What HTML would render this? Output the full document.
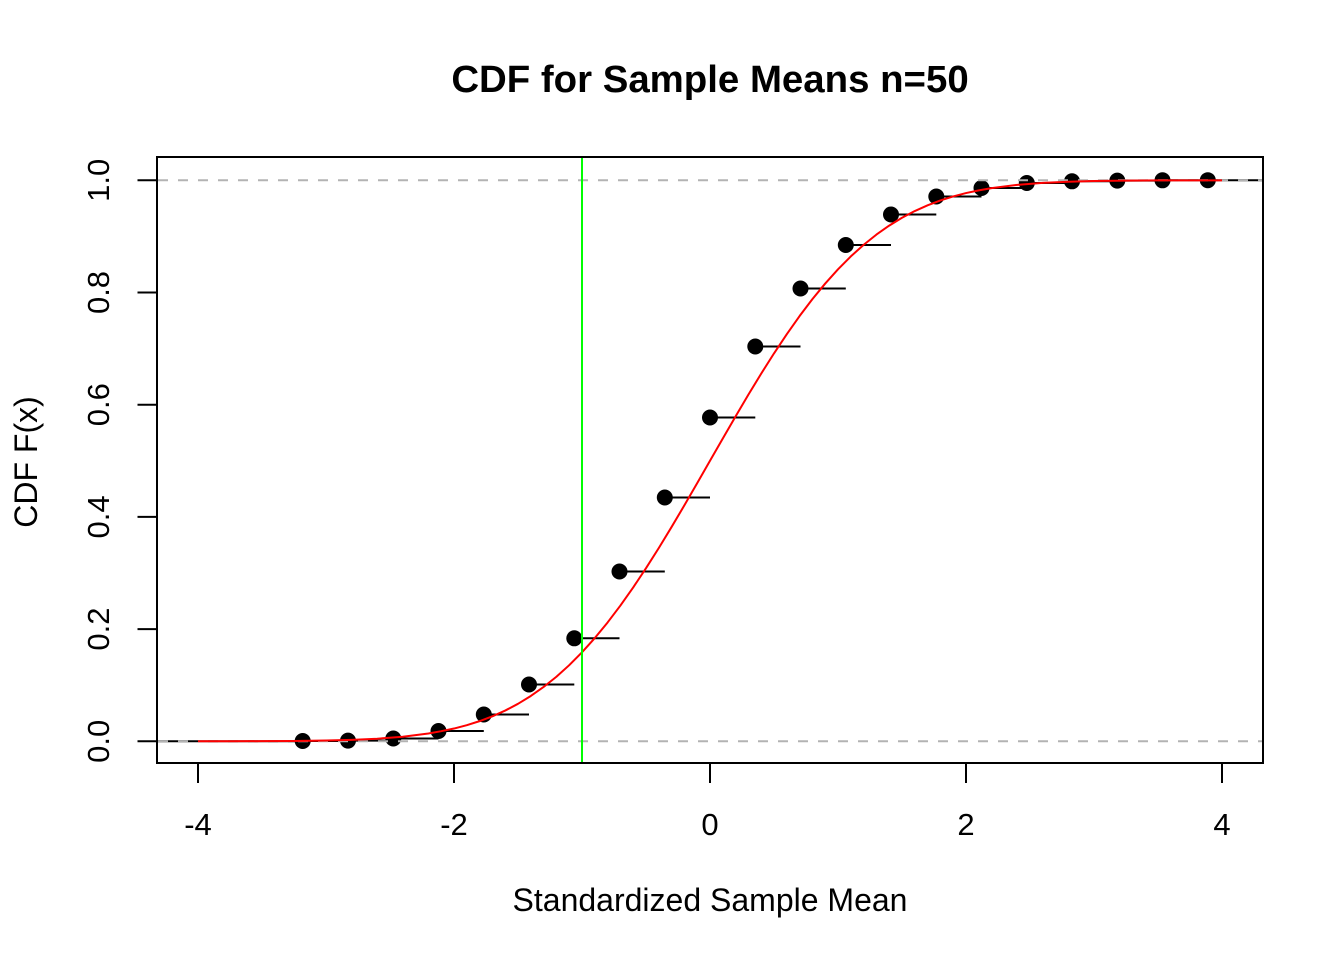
<!DOCTYPE html>
<html>
<head>
<meta charset="utf-8">
<style>
  html, body { margin: 0; padding: 0; background: #ffffff; }
  svg { display: block; }
  text { font-family: "Liberation Sans", Arial, Helvetica, sans-serif; fill: #000; }
</style>
</head>
<body>
<svg width="1344" height="960" viewBox="0 0 1344 960" xmlns="http://www.w3.org/2000/svg">
  <rect x="0" y="0" width="1344" height="960" fill="#ffffff"/>

  <!-- Title -->
  <text x="710" y="92" font-size="38.4" font-weight="bold" text-anchor="middle">CDF for Sample Means n=50</text>

  <!-- ECDF horizontal segments -->
  <g stroke="#000" stroke-width="2" fill="none">
    <line x1="157" y1="741.3" x2="302.7" y2="741.3"/>
    <line x1="302.7" y1="741" x2="348" y2="741"/>
    <line x1="348" y1="740.6" x2="393.3" y2="740.6"/>
    <line x1="393.3" y1="738.5" x2="438.5" y2="738.5"/>
    <line x1="438.5" y1="731" x2="483.8" y2="731"/>
    <line x1="483.8" y1="714.5" x2="529" y2="714.5"/>
    <line x1="529" y1="684.5" x2="574.3" y2="684.5"/>
    <line x1="574.3" y1="638.3" x2="619.5" y2="638.3"/>
    <line x1="619.5" y1="571.5" x2="664.8" y2="571.5"/>
    <line x1="664.8" y1="497.5" x2="710" y2="497.5"/>
    <line x1="710" y1="417.5" x2="755.3" y2="417.5"/>
    <line x1="755.3" y1="346.5" x2="800.5" y2="346.5"/>
    <line x1="800.5" y1="288.5" x2="845.8" y2="288.5"/>
    <line x1="845.8" y1="245" x2="891" y2="245"/>
    <line x1="891" y1="214.5" x2="936.3" y2="214.5"/>
    <line x1="936.3" y1="196.5" x2="981.5" y2="196.5"/>
    <line x1="981.5" y1="188" x2="1026.8" y2="188"/>
    <line x1="1026.8" y1="183" x2="1072" y2="183"/>
    <line x1="1072" y1="181.3" x2="1117.3" y2="181.3"/>
    <line x1="1117.3" y1="180.6" x2="1162.5" y2="180.6"/>
    <line x1="1162.5" y1="180.3" x2="1207.8" y2="180.3"/>
    <line x1="1207.8" y1="180.2" x2="1263" y2="180.2"/>
  </g>

  <!-- ECDF points -->
  <g fill="#000">
    <circle cx="302.7" cy="741" r="8"/>
    <circle cx="348" cy="740.6" r="8"/>
    <circle cx="393.3" cy="738.5" r="8"/>
    <circle cx="438.5" cy="731" r="8"/>
    <circle cx="483.8" cy="714.5" r="8"/>
    <circle cx="529" cy="684.5" r="8"/>
    <circle cx="574.3" cy="638.3" r="8"/>
    <circle cx="619.5" cy="571.5" r="8"/>
    <circle cx="664.8" cy="497.5" r="8"/>
    <circle cx="710" cy="417.5" r="8"/>
    <circle cx="755.3" cy="346.5" r="8"/>
    <circle cx="800.5" cy="288.5" r="8"/>
    <circle cx="845.8" cy="245" r="8"/>
    <circle cx="891" cy="214.5" r="8"/>
    <circle cx="936.3" cy="196.5" r="8"/>
    <circle cx="981.5" cy="188" r="8"/>
    <circle cx="1026.8" cy="183" r="8"/>
    <circle cx="1072" cy="181.3" r="8"/>
    <circle cx="1117.3" cy="180.6" r="8"/>
    <circle cx="1162.5" cy="180.3" r="8"/>
    <circle cx="1207.8" cy="180.2" r="8"/>
  </g>

  <!-- Gray dashed lines at 0 and 1 -->
  <g stroke="#b3b3b3" stroke-width="2" stroke-dasharray="10 10">
    <line x1="158" y1="741.3" x2="1263" y2="741.3"/>
    <line x1="158" y1="180.3" x2="1263" y2="180.3"/>
  </g>

  <!-- Normal CDF curve -->
  <polyline fill="none" stroke="#ff0000" stroke-width="2" stroke-linejoin="round" points="
    198,741.28 230,741.25 262,741.17 294,740.95 326,740.54 351.6,739.86 377.2,738.69 402.8,736.70
    428.4,733.50 441.2,731.2 454,728.54 466.8,725.19 479.6,721.14 492.4,716.30 505.2,710.56 518,703.82
    530.8,695.99 543.6,686.99 556.4,676.75 569.2,665.19 582,652.29 594.8,638.04 607.6,622.45
    620.4,605.56 633.2,587.45 646,568.21 658.8,547.99 671.6,526.95 684.4,505.27 697.2,483.15
    710,460.8 722.8,438.46 735.6,416.34 748.4,394.65 761.2,373.61 774,353.39 786.8,334.15
    799.6,316.04 812.4,299.15 825.2,283.56 838,269.31 850.8,256.41 863.6,244.85 876.4,234.61
    889.2,225.61 902,217.78 914.8,211.04 927.6,205.30 940.4,200.46 953.2,196.41 966,193.06
    978.8,190.4 991.6,188.10 1017.2,184.90 1042.8,182.91 1068.4,181.74 1094,181.06
    1126,180.65 1158,180.43 1190,180.36 1222,180.32"/>

  <!-- Green vertical line at x = -1 -->
  <line x1="582" y1="157" x2="582" y2="763" stroke="#00ff00" stroke-width="2"/>

  <!-- Plot box -->
  <rect x="157" y="157" width="1106" height="606" fill="none" stroke="#000" stroke-width="2"/>

  <!-- X axis -->
  <g stroke="#000" stroke-width="2">
    <line x1="198" y1="763" x2="1222" y2="763"/>
    <line x1="198" y1="763" x2="198" y2="783"/>
    <line x1="454" y1="763" x2="454" y2="783"/>
    <line x1="710" y1="763" x2="710" y2="783"/>
    <line x1="966" y1="763" x2="966" y2="783"/>
    <line x1="1222" y1="763" x2="1222" y2="783"/>
  </g>
  <g font-size="31" text-anchor="middle">
    <text x="198" y="835">-4</text>
    <text x="454" y="835">-2</text>
    <text x="710" y="835">0</text>
    <text x="966" y="835">2</text>
    <text x="1222" y="835">4</text>
  </g>

  <!-- Y axis -->
  <g stroke="#000" stroke-width="2">
    <line x1="157" y1="180.3" x2="157" y2="741.3"/>
    <line x1="137.5" y1="741.3" x2="157" y2="741.3"/>
    <line x1="137.5" y1="629.1" x2="157" y2="629.1"/>
    <line x1="137.5" y1="516.9" x2="157" y2="516.9"/>
    <line x1="137.5" y1="404.7" x2="157" y2="404.7"/>
    <line x1="137.5" y1="292.5" x2="157" y2="292.5"/>
    <line x1="137.5" y1="180.3" x2="157" y2="180.3"/>
  </g>
  <g font-size="31" text-anchor="middle">
    <text transform="translate(109,741.3) rotate(-90)">0.0</text>
    <text transform="translate(109,629.1) rotate(-90)">0.2</text>
    <text transform="translate(109,516.9) rotate(-90)">0.4</text>
    <text transform="translate(109,404.7) rotate(-90)">0.6</text>
    <text transform="translate(109,292.5) rotate(-90)">0.8</text>
    <text transform="translate(109,180.3) rotate(-90)">1.0</text>
  </g>

  <!-- Axis titles -->
  <text x="710" y="911" font-size="32" text-anchor="middle">Standardized Sample Mean</text>
  <text transform="translate(37,462) rotate(-90)" font-size="32" text-anchor="middle">CDF F(x)</text>
</svg>
</body>
</html>
